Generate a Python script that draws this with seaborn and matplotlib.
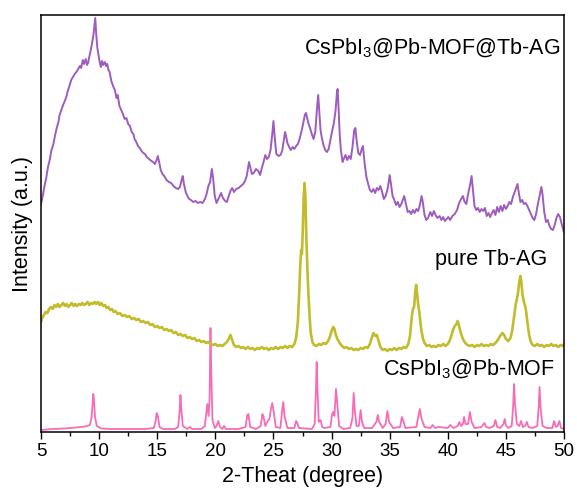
import matplotlib
matplotlib.use("Agg")
import matplotlib.pyplot as plt
from matplotlib.ticker import MultipleLocator
import numpy as np
import pandas as pd
import seaborn as sns

# ---------------- data (2-theta, stacked intensity in a.u.) ----------------
mof_trace = [
    (5.0, 2), (6.0, 3), (7.0, 3.5), (8.0, 4.5), (8.8, 5.5), (9.2, 7), (9.35, 14), (9.45, 30),
    (9.5, 38), (9.55, 33), (9.65, 15), (9.8, 6), (10.2, 3.5), (11, 3), (12, 3), (13, 3), (14, 3),
    (14.7, 4), (14.85, 10), (14.95, 19), (15.05, 16), (15.2, 5), (15.5, 3), (16.5, 3), (16.8, 5),
    (16.92, 20), (17.0, 37), (17.08, 22), (17.2, 6), (17.6, 3), (17.8, 5), (18.0, 3), (18.8, 3),
    (19.1, 6), (19.25, 22), (19.33, 28), (19.42, 16), (19.5, 30), (19.58, 104), (19.65, 60),
    (19.75, 12), (19.95, 4), (20.1, 6), (20.25, 11), (20.4, 5), (20.6, 3), (20.75, 6), (20.9, 3),
    (22.0, 3), (22.6, 5), (22.75, 17), (22.85, 18), (23.0, 5), (23.5, 3), (23.9, 6), (24.05, 18),
    (24.15, 15), (24.3, 6), (24.5, 11), (24.65, 13), (24.8, 24), (24.9, 29), (25.0, 22), (25.2, 5),
    (25.6, 4), (25.75, 22), (25.85, 30), (25.95, 16), (26.2, 4), (26.8, 4), (26.95, 11), (27.05, 9),
    (27.2, 4), (28.3, 3), (28.55, 8), (28.65, 40), (28.72, 70), (28.8, 40), (28.9, 10), (29.05, 12),
    (29.2, 5), (29.4, 4), (29.9, 5), (30.05, 18), (30.15, 20), (30.25, 16), (30.38, 43), (30.48, 30),
    (30.65, 6), (31.0, 3), (31.6, 4), (31.8, 14), (31.9, 39), (32.0, 22), (32.15, 6), (32.35, 6),
    (32.5, 22), (32.62, 10), (32.8, 4), (33.5, 4), (33.85, 10), (33.98, 17), (34.1, 10), (34.4, 4),
    (34.65, 8), (34.8, 21), (34.95, 10), (35.3, 4), (35.9, 5), (36.05, 15), (36.15, 12), (36.35, 4),
    (37.3, 5), (37.5, 18), (37.6, 23), (37.72, 14), (38.0, 5), (38.5, 4), (38.7, 7), (38.9, 4),
    (39.2, 5), (40.0, 4), (40.2, 7), (40.5, 4), (40.85, 6), (41.0, 10), (41.15, 6), (41.3, 8),
    (41.4, 15), (41.52, 8), (41.75, 8), (41.9, 20), (42.05, 10), (42.3, 4), (42.9, 5), (43.15, 9),
    (43.3, 5), (43.6, 4), (43.95, 6), (44.1, 12), (44.25, 5), (44.5, 4), (44.8, 8), (44.9, 13),
    (45.0, 7), (45.2, 4), (45.5, 6), (45.62, 25), (45.7, 48), (45.78, 28), (45.95, 8), (46.15, 6),
    (46.3, 11), (46.45, 5), (46.65, 6), (46.8, 10), (46.95, 5), (47.3, 4), (47.7, 6), (47.82, 25),
    (47.9, 45), (47.98, 25), (48.15, 6), (48.5, 4), (49.0, 4), (49.15, 11), (49.3, 5), (49.45, 6),
    (49.6, 11), (49.75, 4), (50.0, 3),
]

tbag_trace = [
    (5.0, 110), (5.1, 114), (5.25, 117), (5.4, 120), (5.55, 119), (5.7, 123), (5.85, 125), (6.0, 123),
    (6.15, 127), (6.3, 125), (6.45, 128), (6.6, 125), (6.75, 127), (6.9, 129), (7.05, 126), (7.2, 128),
    (7.35, 125), (7.5, 127), (7.65, 129), (7.8, 126), (7.95, 128), (8.1, 126), (8.25, 128), (8.4, 127),
    (8.55, 129), (8.7, 127), (8.85, 128), (9.0, 130), (9.15, 127), (9.3, 129), (9.45, 128), (9.6, 130),
    (9.75, 128), (9.9, 130), (10.05, 127), (10.2, 129), (10.35, 126), (10.5, 127), (10.65, 124),
    (10.8, 125), (10.95, 122), (11.1, 123), (11.25, 120), (11.4, 121), (11.6, 118), (11.8, 119),
    (12.0, 116), (12.2, 117), (12.4, 115), (12.6, 116), (12.8, 113), (13.0, 114), (13.2, 112),
    (13.4, 113), (13.6, 110), (13.8, 111), (14.0, 109), (14.2, 110), (14.4, 107), (14.6, 108),
    (14.8, 105), (15.0, 106), (15.2, 104), (15.4, 105), (15.6, 102), (15.8, 103), (16.0, 101),
    (16.2, 102), (16.4, 99), (16.6, 100), (16.8, 97), (17.0, 98), (17.2, 96), (17.4, 97), (17.6, 94),
    (17.8, 95), (18.0, 93), (18.2, 94), (18.4, 91), (18.6, 92), (18.8, 90), (19.0, 91), (19.2, 89),
    (19.4, 90), (19.6, 88), (19.8, 87), (20.0, 88), (20.2, 86), (20.4, 87), (20.6, 86), (20.8, 88),
    (21.0, 90), (21.15, 93), (21.3, 97), (21.45, 92), (21.6, 87), (21.8, 85), (22.0, 86), (22.2, 84),
    (22.4, 85), (22.6, 83), (22.8, 85), (23.0, 83), (23.2, 84), (23.4, 82), (23.6, 84), (23.8, 83),
    (24.0, 85), (24.2, 83), (24.4, 84), (24.6, 82), (24.8, 84), (25.0, 83), (25.2, 85), (25.4, 83),
    (25.6, 85), (25.8, 84), (26.0, 86), (26.2, 84), (26.4, 86), (26.6, 85), (26.8, 88), (26.95, 94),
    (27.1, 110), (27.2, 135), (27.3, 165), (27.38, 182), (27.45, 178), (27.52, 200), (27.6, 235),
    (27.68, 249), (27.75, 235), (27.82, 200), (27.9, 170), (28.0, 140), (28.1, 118), (28.2, 100),
    (28.35, 90), (28.5, 87), (28.7, 86), (28.9, 88), (29.1, 87), (29.3, 89), (29.5, 88), (29.7, 91),
    (29.85, 95), (30.0, 101), (30.15, 105), (30.25, 103), (30.35, 98), (30.5, 93), (30.7, 89),
    (30.9, 86), (31.1, 84), (31.3, 85), (31.5, 83), (31.7, 84), (31.9, 82), (32.1, 83), (32.3, 82),
    (32.5, 84), (32.7, 83), (32.9, 85), (33.1, 84), (33.3, 88), (33.45, 94), (33.6, 99), (33.75, 96),
    (33.9, 97), (34.05, 91), (34.2, 85), (34.4, 82), (34.6, 83), (34.8, 81), (35.0, 83), (35.2, 82),
    (35.4, 84), (35.6, 82), (35.8, 84), (36.0, 83), (36.2, 85), (36.4, 84), (36.6, 88), (36.75, 96),
    (36.9, 115), (37.0, 123), (37.1, 125), (37.2, 140), (37.28, 147), (37.36, 138), (37.45, 128),
    (37.55, 120), (37.7, 104), (37.85, 94), (38.0, 89), (38.2, 86), (38.4, 87), (38.6, 85), (38.8, 86),
    (39.0, 85), (39.2, 87), (39.4, 86), (39.6, 88), (39.8, 86), (40.0, 88), (40.15, 91), (40.3, 96),
    (40.45, 102), (40.6, 106), (40.75, 108), (40.85, 111), (40.95, 107), (41.1, 100), (41.3, 93),
    (41.5, 89), (41.7, 87), (41.9, 86), (42.1, 87), (42.3, 85), (42.5, 87), (42.7, 86), (42.9, 88),
    (43.1, 86), (43.3, 87), (43.5, 86), (43.7, 88), (43.9, 87), (44.1, 89), (44.3, 92), (44.5, 96),
    (44.7, 99), (44.85, 97), (45.0, 93), (45.2, 91), (45.4, 94), (45.55, 102), (45.7, 115),
    (45.85, 128), (45.95, 133), (46.05, 140), (46.15, 150), (46.25, 156), (46.33, 150), (46.42, 138),
    (46.55, 130), (46.7, 124), (46.85, 110), (47.0, 97), (47.15, 90), (47.3, 87), (47.5, 86),
    (47.7, 88), (47.9, 86), (48.1, 87), (48.3, 85), (48.5, 87), (48.7, 86), (48.9, 88), (49.1, 86),
    (49.3, 87), (49.5, 85), (49.7, 87), (49.9, 86), (50.0, 88),
]

composite_trace = [
    (5.0, 228), (5.15, 236), (5.3, 246), (5.45, 254), (5.6, 265), (5.75, 272), (5.9, 282), (6.05, 287),
    (6.2, 296), (6.35, 304), (6.5, 310), (6.6, 317), (6.75, 322), (6.9, 327), (7.05, 331), (7.2, 336),
    (7.3, 341), (7.45, 346), (7.6, 352), (7.75, 355), (7.9, 358), (8.05, 360), (8.2, 363), (8.35, 366),
    (8.45, 364), (8.6, 372), (8.7, 368), (8.85, 373), (8.95, 367), (9.05, 369), (9.15, 375), (9.25, 380),
    (9.35, 386), (9.5, 396), (9.6, 407), (9.67, 414), (9.75, 398), (9.85, 384), (9.95, 377), (10.05, 370),
    (10.15, 365), (10.25, 371), (10.35, 367), (10.5, 370), (10.6, 366), (10.7, 368), (10.8, 362),
    (10.9, 360), (11.05, 351), (11.2, 346), (11.35, 342), (11.5, 334), (11.6, 337), (11.75, 326),
    (11.9, 322), (12.05, 318), (12.2, 313), (12.35, 314), (12.5, 308), (12.65, 306), (12.8, 300),
    (12.95, 298), (13.05, 293), (13.2, 290), (13.35, 286), (13.5, 284), (13.65, 281), (13.8, 279),
    (13.95, 278), (14.1, 275), (14.3, 273), (14.5, 271), (14.65, 270), (14.8, 268), (14.95, 272),
    (15.05, 276), (15.15, 271), (15.3, 262), (15.45, 258), (15.6, 256), (15.8, 252), (16.0, 250),
    (16.2, 249), (16.4, 246), (16.6, 244), (16.8, 243), (16.95, 245), (17.1, 252), (17.2, 256),
    (17.3, 248), (17.45, 240), (17.6, 236), (17.75, 233), (17.9, 232), (18.1, 230), (18.3, 231),
    (18.5, 229), (18.7, 230), (18.9, 229), (19.1, 233), (19.25, 238), (19.4, 246), (19.55, 250),
    (19.7, 263), (19.8, 255), (19.95, 236), (20.1, 229), (20.3, 234), (20.5, 239), (20.65, 234),
    (20.85, 231), (21.0, 230), (21.15, 236), (21.3, 241), (21.45, 244), (21.6, 240), (21.8, 243),
    (22.0, 244), (22.2, 246), (22.4, 248), (22.55, 251), (22.7, 256), (22.8, 263), (22.9, 270),
    (23.0, 265), (23.15, 258), (23.3, 259), (23.5, 263), (23.7, 261), (23.85, 257), (24.0, 264),
    (24.15, 270), (24.3, 277), (24.45, 273), (24.6, 275), (24.75, 282), (24.9, 298), (25.0, 311),
    (25.1, 296), (25.25, 278), (25.45, 276), (25.6, 277), (25.75, 281), (25.9, 292), (26.0, 300),
    (26.1, 295), (26.2, 289), (26.35, 285), (26.5, 282), (26.65, 285), (26.8, 283), (26.95, 286),
    (27.1, 288), (27.25, 293), (27.4, 300), (27.55, 308), (27.7, 317), (27.8, 319), (27.9, 314),
    (28.05, 307), (28.15, 304), (28.3, 298), (28.45, 293), (28.6, 300), (28.75, 324), (28.85, 337),
    (28.95, 320), (29.05, 302), (29.15, 295), (29.3, 287), (29.45, 282), (29.6, 280), (29.75, 283),
    (29.9, 292), (30.05, 301), (30.2, 309), (30.35, 322), (30.45, 338), (30.52, 343), (30.6, 325),
    (30.7, 298), (30.8, 282), (30.95, 270), (31.05, 273), (31.2, 277), (31.35, 272), (31.5, 276),
    (31.65, 273), (31.8, 285), (31.95, 302), (32.05, 304), (32.15, 292), (32.3, 279), (32.45, 277),
    (32.6, 283), (32.7, 286), (32.85, 268), (33.0, 255), (33.15, 248), (33.3, 242), (33.45, 240),
    (33.6, 243), (33.75, 239), (33.9, 244), (34.05, 242), (34.2, 246), (34.35, 240), (34.5, 233),
    (34.65, 236), (34.8, 242), (34.92, 250), (35.0, 257), (35.1, 249), (35.25, 236), (35.4, 232),
    (35.55, 227), (35.7, 230), (35.85, 225), (36.0, 228), (36.12, 232), (36.25, 236), (36.4, 228),
    (36.55, 220), (36.7, 221), (36.85, 218), (37.0, 222), (37.15, 219), (37.3, 223), (37.45, 221),
    (37.6, 227), (37.75, 236), (37.85, 230), (38.0, 217), (38.15, 212), (38.3, 214), (38.5, 220),
    (38.65, 216), (38.8, 221), (38.95, 217), (39.1, 214), (39.3, 216), (39.45, 212), (39.6, 215),
    (39.75, 211), (39.9, 213), (40.05, 215), (40.2, 212), (40.4, 216), (40.6, 218), (40.8, 222),
    (40.95, 228), (41.1, 232), (41.3, 236), (41.45, 230), (41.6, 228), (41.75, 238), (41.9, 246),
    (42.05, 256), (42.15, 244), (42.3, 226), (42.45, 222), (42.6, 224), (42.75, 220), (42.9, 223),
    (43.05, 221), (43.2, 224), (43.35, 216), (43.5, 219), (43.65, 215), (43.8, 219), (43.95, 222),
    (44.1, 217), (44.25, 225), (44.4, 220), (44.55, 226), (44.7, 221), (44.85, 227), (45.0, 223),
    (45.15, 226), (45.3, 230), (45.45, 228), (45.6, 235), (45.75, 240), (45.9, 245), (46.0, 248),
    (46.1, 240), (46.25, 230), (46.4, 232), (46.55, 228), (46.7, 229), (46.85, 226), (47.0, 222),
    (47.15, 218), (47.3, 214), (47.45, 212), (47.6, 218), (47.75, 228), (47.9, 236), (48.05, 245),
    (48.15, 238), (48.3, 220), (48.45, 210), (48.6, 212), (48.75, 206), (48.9, 203), (49.05, 202),
    (49.2, 207), (49.35, 214), (49.5, 218), (49.65, 215), (49.8, 208), (49.95, 202), (50.0, 200),
]

series_names = ["CsPbI$_3$@Pb-MOF", "pure Tb-AG", "CsPbI$_3$@Pb-MOF@Tb-AG"]
series_colors = ["#F86CB6", "#C2BC2C", "#9E5CBE"]
series_widths = [1.3, 1.9, 1.4]
x_ticks = [5, 10, 15, 20, 25, 30, 35, 40, 45, 50]

# ---------------- style ----------------
sns.set_style("ticks")
plt.rcParams["font.family"] = ["Liberation Sans", "DejaVu Sans"]
plt.rcParams["mathtext.fontset"] = "custom"
plt.rcParams["mathtext.rm"] = "Liberation Sans"
plt.rcParams["mathtext.default"] = "regular"
plt.rcParams["text.color"] = "black"
plt.rcParams["axes.labelcolor"] = "black"
plt.rcParams["xtick.color"] = "black"
plt.rcParams["ytick.color"] = "black"

fig = plt.figure(figsize=(5.77, 4.88), dpi=100)
ax = fig.add_axes([41 / 577, 56 / 488, 523 / 577, 417 / 488])

traces = [mof_trace, tbag_trace, composite_trace]
for name, trace, col, lw in zip(series_names, traces, series_colors, series_widths):
    df = pd.DataFrame(trace, columns=["theta", "intensity"])
    sns.lineplot(data=df, x="theta", y="intensity", sort=False, estimator=None,
                 color=col, linewidth=lw, ax=ax)

ax.set_xlim(5, 50)
ax.set_ylim(0, 417)
ax.set_xticks(x_ticks)
ax.xaxis.set_minor_locator(MultipleLocator(2.5))
ax.set_yticks([])
ax.tick_params(axis="x", which="major", direction="out", length=5, width=1,
               labelsize=13.5, pad=3, colors="black")
ax.tick_params(axis="x", which="minor", direction="out", length=3, width=1, colors="black")
for sp in ax.spines.values():
    sp.set_visible(True)
    sp.set_linewidth(1.1)
    sp.set_color("black")

ax.set_xlabel("2-Theat (degree)", fontsize=15.5, labelpad=4, color="black")
ax.set_ylabel("Intensity (a.u.)", fontsize=15.5, labelpad=6, color="black")

ax.text(49.65, 384, series_names[2], ha="right", va="center", fontsize=15.5, color="black")
ax.text(48.6, 173, series_names[1], ha="right", va="center", fontsize=15.5, color="black")
ax.text(49.25, 63, series_names[0], ha="right", va="center", fontsize=15.5, color="black")

fig.savefig("out.png", dpi=100)
